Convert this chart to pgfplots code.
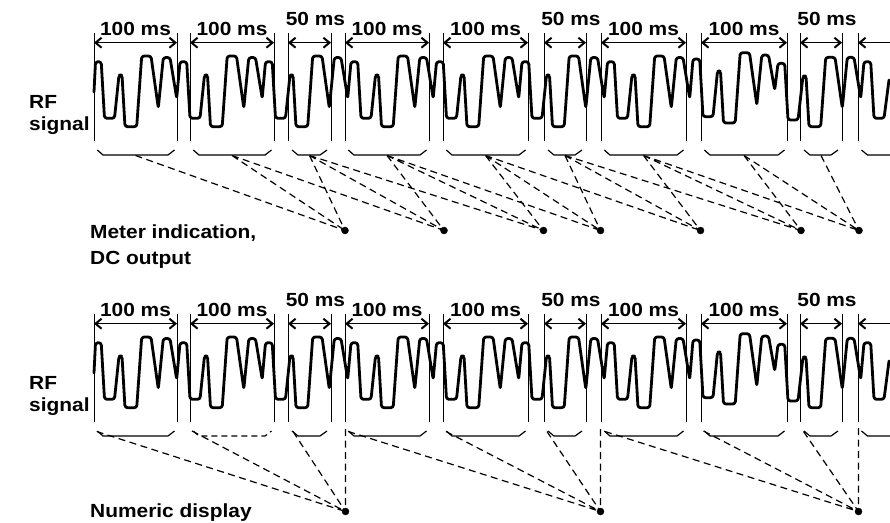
\documentclass[border=0pt]{standalone}
\usepackage{pgfplots}
\pgfplotsset{compat=1.18}
\usepackage{pgfplotstable}
\usetikzlibrary{arrows.meta}
\usepackage{fontspec}
\setmainfont{Liberation Sans}
\usepackage{graphicx}

\newcommand{\lbl}[1]{\scalebox{1.1}[1]{\fontsize{19}{21}\selectfont\bfseries #1}}

% RF signal waveform (x, y in picture pixels, y downwards)
\pgfplotstableread{
x y
94 92
95.5 61.7
101.2 61.7
104.5 118.3
114.5 118.3
119 75
122 75
125 126.7
136.7 126.7
141.7 56
151 56
158.3 108
163.3 57.5
170 57.5
176.7 98.3
180 61.7
186.7 61.7
190 118.3
200 118.3
204.5 75
207.5 75
210.5 126.7
222.2 126.7
227.2 56
236.5 56
243.8 108
248.8 57.5
255.5 57.5
262.2 98.3
265.5 61.7
272.2 61.7
275.5 118.3
285.5 118.3
290 75
293 75
296 126.7
307.7 126.7
312.7 56
322 56
329.3 108
334.3 57.5
341 57.5
347.7 98.3
351 61.7
357.7 61.7
361 118.3
371 118.3
375.5 75
378.5 75
381.5 126.7
393.2 126.7
398.2 56
407.5 56
414.8 108
419.8 57.5
426.5 57.5
433.2 98.3
436.5 61.7
443.2 61.7
446.5 118.3
456.5 118.3
461 75
464 75
467 126.7
478.7 126.7
483.7 56
493 56
500.3 108
505.3 57.5
512 57.5
518.7 98.3
522 61.7
528.7 61.7
532 118.3
542 118.3
546.5 75
549.5 75
552.5 126.7
564.2 126.7
569.2 56
578.5 56
585.8 108
590.8 57.5
597.5 57.5
604.2 98.3
607.5 61.7
614.2 61.7
617.5 118.3
627.5 118.3
632 75
635 75
638 126.7
649.7 126.7
654.7 56
664 56
671.3 108
676.3 57.5
683 57.5
689.7 98.3
693 59
699.7 59
703 116.7
713 116.7
717.5 71
720.5 71
723.5 123
735.2 123
740.2 52.7
749.5 52.7
756.8 105
761.8 55
768.5 55
774.7 90
778 63.3
784.7 63.3
788 120
798 120
803 76
806 76
809 126.7
820.7 126.7
825.7 57.3
835 57.3
842.3 108
847.3 57.3
854 57.3
860.7 98.3
864 61.7
870.7 61.7
874 118.3
884 118.3
889 80
}\wave

% segment boundary lines
\pgfplotstableread{
x y
94 33
94 141
nan nan
177 33
177 141
nan nan
190 33
190 141
nan nan
274 33
274 141
nan nan
288 33
288 141
nan nan
331 33
331 141
nan nan
345 33
345 141
nan nan
429 33
429 141
nan nan
443 33
443 141
nan nan
528 33
528 141
nan nan
544 33
544 141
nan nan
586 33
586 141
nan nan
601 33
601 141
nan nan
686 33
686 141
nan nan
701 33
701 141
nan nan
787 33
787 141
nan nan
800 33
800 141
nan nan
842 33
842 141
nan nan
858 33
858 141
}\bounds

% brackets under the segments (all but the second)
\pgfplotstableread{
x y
97.3 150
103 155
168 155
174.5 150
nan nan
292 150
298 155
320 155
327 150
nan nan
348.3 150
354 155
420 155
426.5 150
nan nan
446.3 150
452 155
519 155
525.5 150
nan nan
548 150
554 155
575 155
582 150
nan nan
604.3 150
610 155
677 155
683.5 150
nan nan
704.3 150
710 155
778 155
784.5 150
nan nan
804 150
810 155
831 155
838 150
nan nan
861.5 150
867.5 155
890 155
}\brackets

\pgfplotstableread{
x y
193.3 150
199 155
265 155
271.5 150
}\brtwo

% meter indication: dashed lines from bracket centres to the dots
\pgfplotstableread{
x y
135.5 155.5
345 230.5
nan nan
232 155.5
345 230.5
nan nan
309.5 155.5
345 230.5
nan nan
232 155.5
444 230.5
nan nan
309.5 155.5
444 230.5
nan nan
387 155.5
444 230.5
nan nan
309.5 155.5
543.5 230.5
nan nan
387 155.5
543.5 230.5
nan nan
485.5 155.5
543.5 230.5
nan nan
387 155.5
600.5 230.5
nan nan
485.5 155.5
600.5 230.5
nan nan
565 155.5
600.5 230.5
nan nan
485.5 155.5
700.5 230.5
nan nan
565 155.5
700.5 230.5
nan nan
643.5 155.5
700.5 230.5
nan nan
565 155.5
801 230.5
nan nan
643.5 155.5
801 230.5
nan nan
744 155.5
801 230.5
nan nan
643.5 155.5
859 230.5
nan nan
744 155.5
859 230.5
nan nan
821 155.5
859 230.5
}\meter

% numeric display: dashed lines
\pgfplotstableread{
x y
96.7 431.5
345.5 511.5
nan nan
192 431
345.5 511.5
nan nan
293 431.5
345.5 511.5
nan nan
345.5 429
345.5 511.5
nan nan
348.3 431.5
600.5 511.5
nan nan
446 431.5
600.5 511.5
nan nan
547 431.5
600.5 511.5
nan nan
600.5 429
600.5 511.5
nan nan
605 431.5
858.5 511.5
nan nan
703.5 431
858.5 511.5
nan nan
803.5 431.5
858.5 511.5
nan nan
858.5 428
858.5 511.5
}\numeric

\tikzset{
  arr/.style={line width=1.5pt, black,
    arrows={Straight Barb[length=6pt,width=10pt,line width=2pt]-Straight Barb[length=6pt,width=10pt,line width=2pt]}},
  arrl/.style={line width=1.5pt, black,
    arrows={Straight Barb[length=6pt,width=10pt,line width=2pt]-}},
}

\newcommand{\panel}[1]{%
  \addplot[black, line width=1pt] table {\bounds};
  \addplot[black, line width=1.2pt] table {\brackets};
  \addplot[black, line width=1.2pt, #1] table {\brtwo};
  \addplot[black, line width=2.8pt, rounded corners=2.5pt, line join=round, line cap=round] table {\wave};
  \addplot[arr] coordinates {(94,42.7) (177,42.7)};
  \addplot[arr] coordinates {(190,42.7) (274,42.7)};
  \addplot[arr] coordinates {(288,42.7) (331,42.7)};
  \addplot[arr] coordinates {(345,42.7) (429,42.7)};
  \addplot[arr] coordinates {(443,42.7) (528,42.7)};
  \addplot[arr] coordinates {(544,42.7) (586,42.7)};
  \addplot[arr] coordinates {(601,42.7) (686,42.7)};
  \addplot[arr] coordinates {(701,42.7) (787,42.7)};
  \addplot[arr] coordinates {(800,42.7) (842,42.7)};
  \addplot[arrl] coordinates {(858,42.7) (890,42.7)};
  \node[anchor=base, inner sep=0pt] at (axis cs:135.5,35) {\lbl{100 ms}};
  \node[anchor=base, inner sep=0pt] at (axis cs:232,35) {\lbl{100 ms}};
  \node[anchor=base, inner sep=0pt] at (axis cs:315.5,25) {\lbl{50 ms}};
  \node[anchor=base, inner sep=0pt] at (axis cs:387,35) {\lbl{100 ms}};
  \node[anchor=base, inner sep=0pt] at (axis cs:485.5,35) {\lbl{100 ms}};
  \node[anchor=base, inner sep=0pt] at (axis cs:571,25) {\lbl{50 ms}};
  \node[anchor=base, inner sep=0pt] at (axis cs:643.5,35) {\lbl{100 ms}};
  \node[anchor=base, inner sep=0pt] at (axis cs:744,35) {\lbl{100 ms}};
  \node[anchor=base, inner sep=0pt] at (axis cs:827,25) {\lbl{50 ms}};
  \node[anchor=base west, inner sep=0pt] at (axis cs:29,108) {\lbl{RF}};
  \node[anchor=base west, inner sep=0pt] at (axis cs:29,130) {\lbl{signal}};
}

\begin{document}
\begin{tikzpicture}
\begin{axis}[name=ax, scale only axis, width=890pt, height=522pt,
  xmin=0, xmax=890, ymin=0, ymax=522, y dir=reverse,
  hide axis, clip=false, unbounded coords=jump]
  \panel{solid}
  \addplot[black, line width=1.2pt, dash pattern=on 7pt off 4.5pt] table {\meter};
  \addplot[black, line width=1.2pt, dash pattern=on 7pt off 4.5pt] table {\numeric};
  \addplot[black, only marks, mark=*, mark size=3.5pt] coordinates {
    (345,230.5) (444,230.5) (543.5,230.5) (600.5,230.5) (700.5,230.5) (801,230.5) (859,230.5)};
  \addplot[black, only marks, mark=*, mark size=3.5pt] coordinates {
    (345.5,511.5) (600.5,511.5) (858.5,511.5)};
  \node[anchor=base west, inner sep=0pt] at (axis cs:90,238) {\lbl{Meter indication,}};
  \node[anchor=base west, inner sep=0pt] at (axis cs:90,264) {\lbl{DC output}};
  \node[anchor=base west, inner sep=0pt] at (axis cs:90,517) {\lbl{Numeric display}};
\end{axis}
\begin{axis}[scale only axis, width=890pt, height=522pt,
  xmin=0, xmax=890, ymin=-281, ymax=241, y dir=reverse,
  hide axis, clip=false, unbounded coords=jump]
  \panel{dash pattern=on 6pt off 4pt}
\end{axis}
\pgfresetboundingbox
\path[use as bounding box] (ax.south west) rectangle (ax.north east);
\end{tikzpicture}
\end{document}
